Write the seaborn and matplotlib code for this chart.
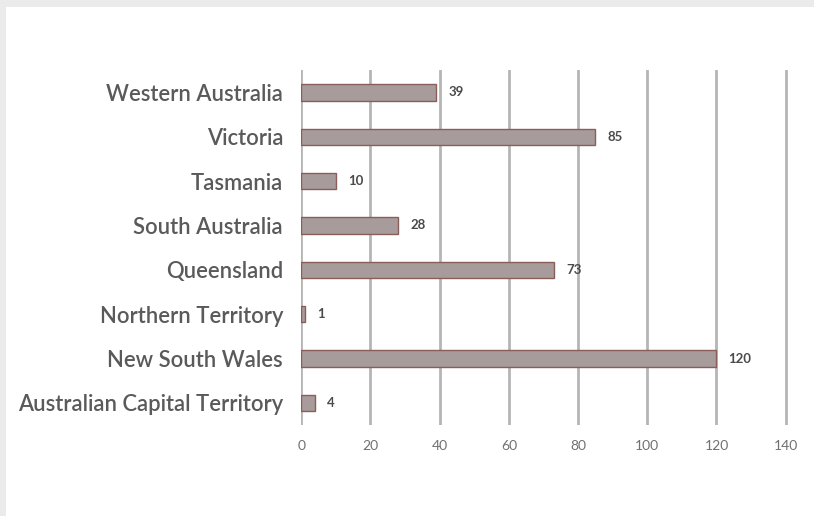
import pandas as pd
import matplotlib.pyplot as plt
import seaborn as sns
from matplotlib.patches import Rectangle

# data
states = ["Western Australia", "Victoria", "Tasmania", "South Australia",
          "Queensland", "Northern Territory", "New South Wales",
          "Australian Capital Territory"]
counts = [39, 85, 10, 28, 73, 1, 120, 4]
x_ticks = [0, 20, 40, 60, 80, 100, 120, 140]

df = pd.DataFrame({"State": states, "Count": counts})

sns.set_style("white")
plt.rcParams["font.family"] = ["Lato", "DejaVu Sans"]

fig = plt.figure(figsize=(8.14, 5.16), dpi=100, facecolor="#ebebeb")
# white card with a light gray margin at top/left
fig.patches.append(Rectangle((6 / 814, 0), 1, 1 - 7 / 516, transform=fig.transFigure,
                             facecolor="white", edgecolor="none", zorder=-10))

ax = fig.add_axes([0.370, 0.176, 0.5995, 0.688])
ax.set_facecolor("none")

sns.barplot(data=df, y="State", x="Count", order=states, orient="h",
            color="#a89b9b", edgecolor="#8a5e58", linewidth=1.0,
            width=0.37, saturation=1, ax=ax, zorder=3)

for i, v in enumerate(counts):
    ax.text(v + 3.5, i, str(v), va="center", ha="left", fontsize=9.5,
            color="#4a4a4a", fontweight="bold", zorder=4)

ax.set_xlim(0, 141)
ax.set_xticks(x_ticks)
ax.set_xticklabels([str(t) for t in x_ticks])
ax.grid(axis="x", color="#b5b5b5", linewidth=2, zorder=1)
ax.set_axisbelow(True)
ax.tick_params(axis="x", length=0, pad=11, labelsize=10, labelcolor="#707070")
ax.tick_params(axis="y", length=0, pad=13, labelsize=15.8, labelcolor="#5a5a5a")
for lbl in ax.get_yticklabels():
    lbl.set_fontweight("semibold")
for s in ax.spines.values():
    s.set_visible(False)
ax.set_xlabel("")
ax.set_ylabel("")

fig.savefig("out.png", dpi=100, facecolor=fig.get_facecolor())
